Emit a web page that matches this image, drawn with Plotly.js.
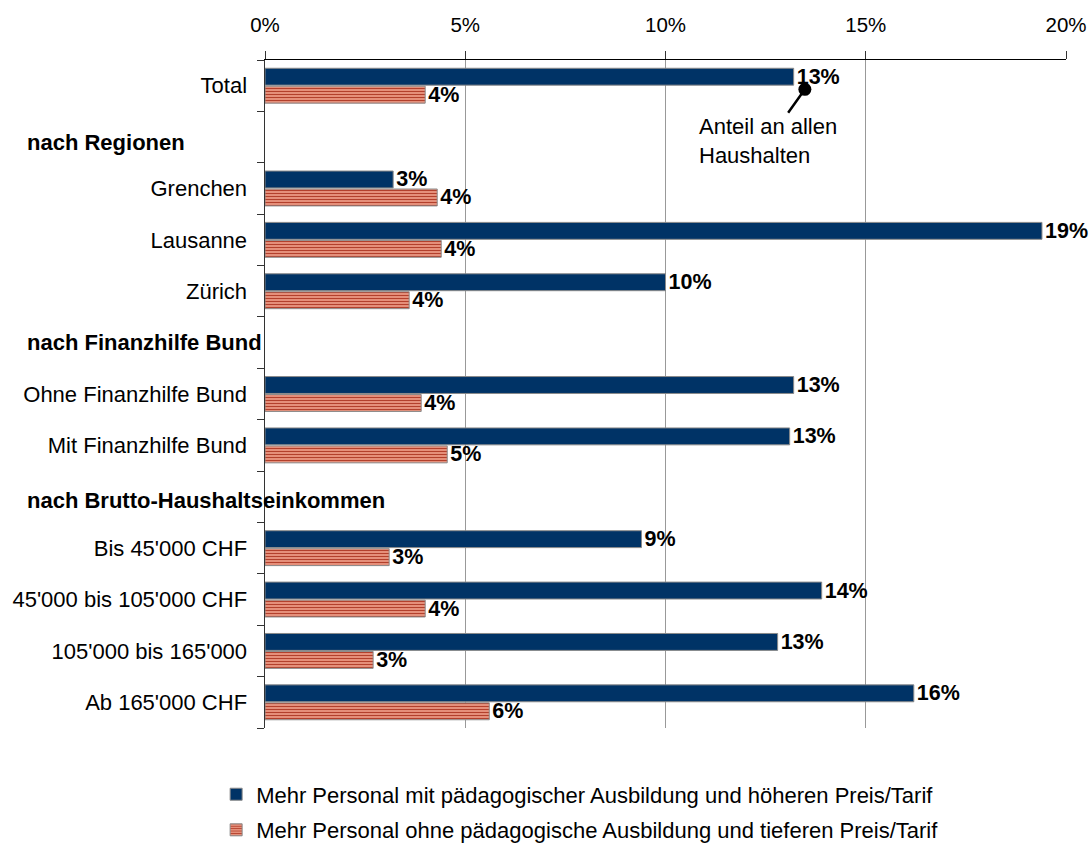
<!DOCTYPE html>
<html>
<head>
<meta charset="utf-8">
<script src="https://cdn.plot.ly/plotly-3.0.1.min.js"></script>
<style>html,body{margin:0;padding:0;background:#fff;}#chart{width:1090px;height:843px;}</style>
</head>
<body>
<div id="chart"></div>
<script>
const categories = ["Total", "H1", "Grenchen", "Lausanne", "Zürich", "H2", "Ohne Finanzhilfe Bund", "Mit Finanzhilfe Bund", "H3", "Bis 45'000 CHF", "45'000 bis 105'000 CHF", "105'000 bis 165'000", "Ab 165'000 CHF"];
const tickLabels = ["Total", "", "Grenchen", "Lausanne", "Zürich", "", "Ohne Finanzhilfe Bund", "Mit Finanzhilfe Bund", "", "Bis 45'000 CHF", "45'000 bis 105'000 CHF", "105'000 bis 165'000", "Ab 165'000 CHF"];
const headerCats = ["H1", "H2", "H3"];
const headerTexts = ["nach Regionen", "nach Finanzhilfe Bund", "nach Brutto-Haushaltseinkommen"];
const seriesNames = ["Mehr Personal mit pädagogischer Ausbildung und höheren Preis/Tarif", "Mehr Personal ohne pädagogische Ausbildung und tieferen Preis/Tarif"];
const valuesMit = [13.2, null, 3.2, 19.4, 10.0, null, 13.2, 13.1, null, 9.4, 13.9, 12.8, 16.2];
const valuesOhne = [4.0, null, 4.3, 4.4, 3.6, null, 3.9, 4.55, null, 3.1, 4.0, 2.7, 5.6];
const xTickVals = [0, 5, 10, 15, 20];
const xTickText = ["0%", "5%", "10%", "15%", "20%"];
const calloutText = "Anteil an allen<br>Haushalten";

const lbl = v => v === null ? "" : Math.round(v) + "%";
const font = "Liberation Sans, Arial, sans-serif";
const FS = 22;

const traces = [
  {
    type: "bar", orientation: "h", name: seriesNames[0], legendgroup: "a",
    y: categories, x: valuesMit,
    text: valuesMit.map(lbl), textposition: "outside", cliponaxis: false, constraintext: "none",
    textfont: {family: font, size: 21.5, color: "#000", weight: "bold"},
    marker: {color: "#003366", line: {color: "#8a8a8a", width: 1}},
    hoverinfo: "skip"
  },
  {
    type: "bar", orientation: "h", name: seriesNames[1], legendgroup: "b",
    y: categories, x: valuesOhne,
    text: valuesOhne.map(lbl), textposition: "outside", cliponaxis: false, constraintext: "none",
    textfont: {family: font, size: 21.5, color: "#000", weight: "bold"},
    marker: {color: "#e8846c", line: {color: "#8a8a8a", width: 1},
      pattern: {shape: "-", bgcolor: "#f0a08a", fgcolor: "#b3402c", size: 3, solidity: 0.45, fillmode: "replace"}},
    hoverinfo: "skip"
  }
];

const headerShift = [-5, 0, -4];
const annotations = headerCats.map((c, i) => ({
  xref: "paper", yref: "y", x: -0.2996, y: c, xanchor: "left", yanchor: "middle", yshift: headerShift[i],
  text: "<b>" + headerTexts[i] + "</b>", showarrow: false,
  font: {family: font, size: FS, color: "#000"}
}));
annotations.push({
  xref: "x", yref: "y", x: 13.48, y: 0.07,
  text: calloutText, showarrow: true, arrowhead: 6, arrowsize: 1.3, arrowwidth: 2.5, arrowcolor: "#000",
  ax: -37, ay: 52, bgcolor: "#fff", align: "left", standoff: 0,
  font: {family: font, size: FS, color: "#000"}
});

const layout = {
  width: 1090, height: 843,
  margin: {l: 265, r: 24, t: 60, b: 115, autoexpand: false},
  paper_bgcolor: "#fff", plot_bgcolor: "#fff",
  font: {family: font, size: FS, color: "#000"},
  barmode: "group", bargap: 0.3, bargroupgap: 0.06,
  showlegend: true,
  legend: {orientation: "v", x: -0.061, xanchor: "left", y: -0.068, yanchor: "top",
    font: {family: font, size: FS, color: "#000"}, tracegroupgap: 4, traceorder: "grouped"},
  xaxis: {
    side: "top", range: [0, 20], tickvals: xTickVals, ticktext: xTickText, tickangle: 0,
    showgrid: true, gridcolor: "#999", gridwidth: 1, zeroline: false,
    showline: true, linecolor: "#000", linewidth: 1.5,
    ticks: "outside", ticklen: 8, tickcolor: "#333", automargin: false,
    ticklabelstandoff: 10,
    tickfont: {family: font, size: 20.5, color: "#000"}, fixedrange: true
  },
  yaxis: {
    type: "category", categoryorder: "array", categoryarray: categories,
    tickvals: categories, ticktext: tickLabels, range: [12.5, -0.5], autorange: false,
    tickson: "boundaries", ticks: "outside", ticklen: 7, tickcolor: "#333",
    showline: true, linecolor: "#333", linewidth: 1.5, showgrid: false, automargin: false,
    ticklabelstandoff: 12,
    tickfont: {family: font, size: FS, color: "#000"}, fixedrange: true
  },
  annotations: annotations
};

Plotly.newPlot("chart", traces, layout, {displayModeBar: false, staticPlot: true});
</script>
</body>
</html>
